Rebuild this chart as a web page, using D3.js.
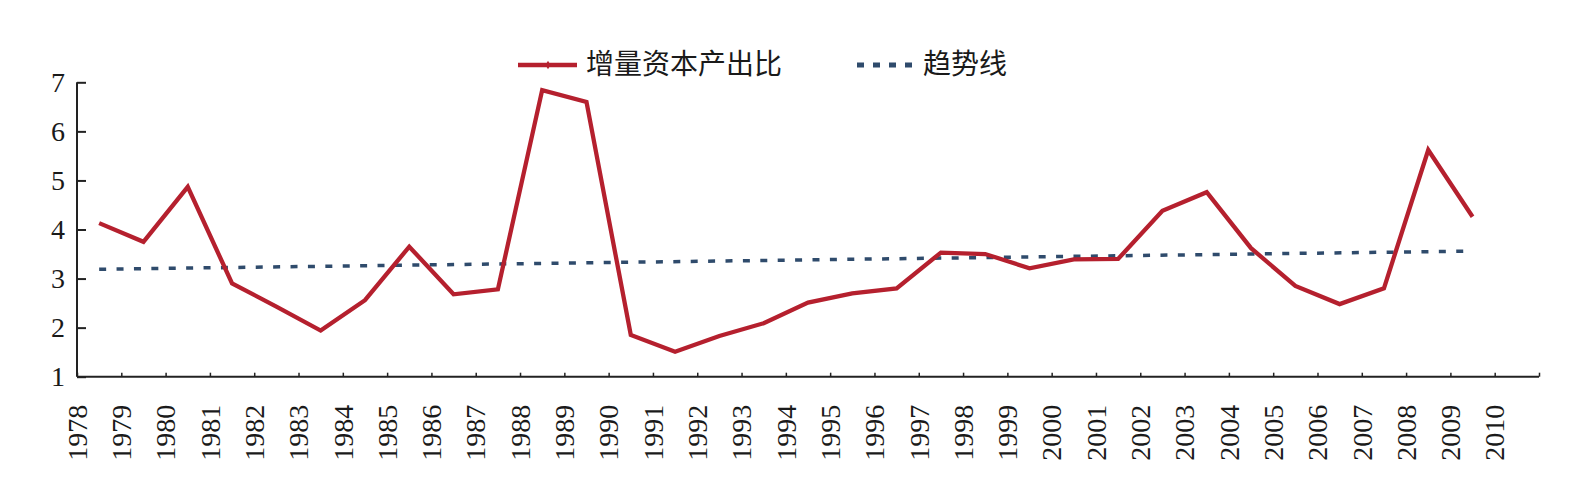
<!DOCTYPE html>
<html>
<head>
<meta charset="utf-8">
<script src="https://cdn.jsdelivr.net/npm/d3@7"></script>
<style>
  html, body { margin: 0; padding: 0; background: #fff; }
  svg { display: block; }
  text { font-family: "Liberation Serif", "Noto Sans CJK SC", serif; fill: #1a1a1a; }
</style>
</head>
<body>
<svg id="chart" width="1586" height="488"></svg>
<script>
// ---- data ----
const years = [1978,1979,1980,1981,1982,1983,1984,1985,1986,1987,1988,1989,1990,1991,1992,1993,
               1994,1995,1996,1997,1998,1999,2000,2001,2002,2003,2004,2005,2006,2007,2008,2009];
const icor = [4.13,3.75,4.87,2.90,2.43,1.94,2.56,3.65,2.68,2.78,6.84,6.60,1.85,1.51,1.83,2.09,
              2.51,2.70,2.80,3.53,3.50,3.21,3.39,3.40,4.38,4.76,3.62,2.85,2.48,2.80,5.62,4.26];
const trendYears = [1978, 2009];
const trendValues = [3.19, 3.56];
const xTickLabels = ["1978","1979","1980","1981","1982","1983","1984","1985","1986","1987","1988",
                     "1989","1990","1991","1992","1993","1994","1995","1996","1997","1998","1999",
                     "2000","2001","2002","2003","2004","2005","2006","2007","2008","2009","2010"];
const yTicks = [1,2,3,4,5,6,7];
const seriesNames = ["增量资本产出比", "趋势线"];

// ---- layout ----
const svg = d3.select("#chart");
const mLeft = 77, mRight = 1539, mTop = 82.3, mBottom = 376.7;
const red = "#B5202E", blue = "#2F4B6C", axisColor = "#222";

// category positions: a linear scale over band index, bands of one year each
const x = d3.scaleLinear().domain([0, xTickLabels.length]).range([mLeft, mRight]);
const xc = yr => x(yr - 1978 + 0.5);
const y = d3.scaleLinear().domain([1, 7]).range([mBottom, mTop]);

// Y axis
const yAxis = d3.axisLeft(y).tickValues(yTicks).tickSize(-9).tickPadding(12).tickFormat(d3.format("d"));
const gy = svg.append("g").attr("transform", `translate(${mLeft},0)`).call(yAxis);
gy.select(".domain").attr("stroke", axisColor).attr("stroke-width", 2).attr("d", `M0,${mTop}V${mBottom}`);
gy.selectAll(".tick line").attr("stroke", axisColor).attr("stroke-width", 2);
gy.selectAll(".tick text").attr("font-size", 28).attr("font-family", "Liberation Serif").attr("fill", "#1a1a1a");

// X axis
const xAxis = d3.axisBottom(x)
  .tickValues(d3.range(0, xTickLabels.length + 1))
  .tickSize(-4)
  .tickFormat(i => xTickLabels[i] || "");
const gx = svg.append("g").attr("transform", `translate(0,${mBottom})`).call(xAxis);
gx.select(".domain").attr("stroke", axisColor).attr("stroke-width", 2).attr("d", `M${mLeft},0H${mRight}`);
gx.selectAll(".tick line").attr("stroke", axisColor).attr("stroke-width", 1.5);
gx.selectAll(".tick text")
  .attr("font-size", 28).attr("font-family", "Liberation Serif").attr("fill", "#1a1a1a")
  .attr("text-anchor", "end")
  .attr("transform", "translate(0,28) rotate(-90)")
  .attr("x", 0).attr("y", 0).attr("dy", "0.33em");

// trend line
const trendData = trendYears.map((yr, i) => ({yr, v: trendValues[i]}));
svg.append("path")
  .datum(trendData)
  .attr("fill", "none")
  .attr("stroke", blue)
  .attr("stroke-width", 3.5)
  .attr("stroke-dasharray", "7,10.4")
  .attr("d", d3.line().x(d => xc(d.yr)).y(d => y(d.v)));

// main series
const mainData = years.map((yr, i) => ({yr, v: icor[i]}));
svg.append("path")
  .datum(mainData)
  .attr("fill", "none")
  .attr("stroke", red)
  .attr("stroke-width", 4.3)
  .attr("stroke-linejoin", "miter")
  .attr("d", d3.line().x(d => xc(d.yr)).y(d => y(d.v)));

// legend
const lg = svg.append("g");
lg.append("line").attr("x1", 518).attr("x2", 577).attr("y1", 65).attr("y2", 65)
  .attr("stroke", red).attr("stroke-width", 4.3);
lg.append("path").attr("d", d3.symbol(d3.symbolDiamond, 22)()).attr("transform", "translate(548,65)").attr("fill", red);
lg.append("text").attr("x", 586).attr("y", 64).attr("dominant-baseline", "central")
  .attr("font-size", 28).attr("font-family", "Noto Sans CJK SC").text(seriesNames[0]);
lg.append("line").attr("x1", 857).attr("x2", 917).attr("y1", 65).attr("y2", 65)
  .attr("stroke", blue).attr("stroke-width", 5).attr("stroke-dasharray", "7,9");
lg.append("text").attr("x", 923).attr("y", 64).attr("dominant-baseline", "central")
  .attr("font-size", 28).attr("font-family", "Noto Sans CJK SC").text(seriesNames[1]);
</script>
</body>
</html>
